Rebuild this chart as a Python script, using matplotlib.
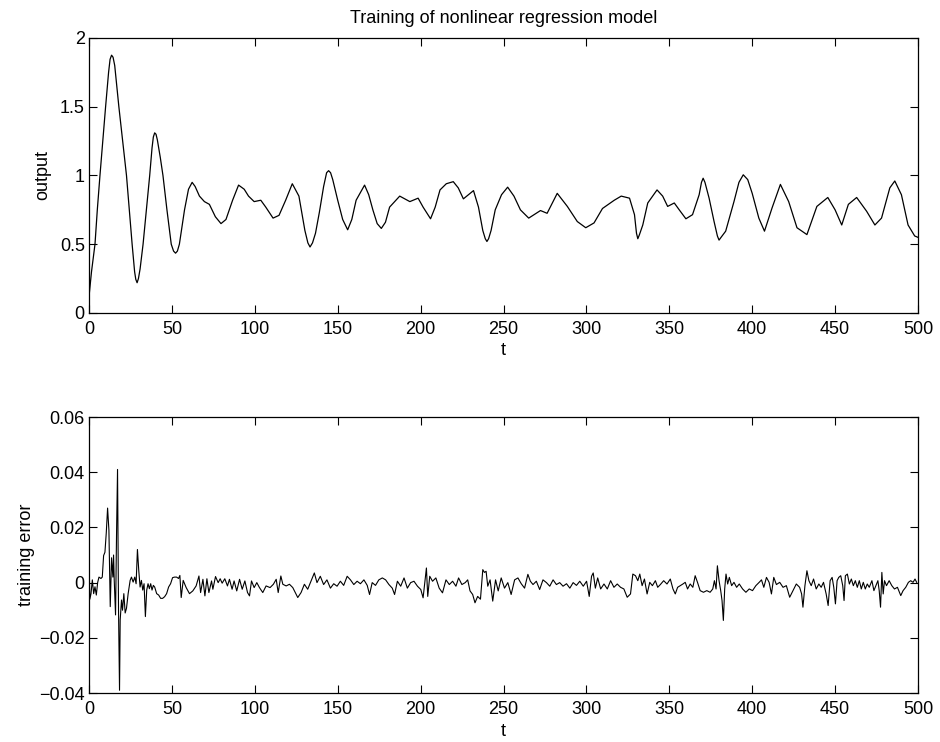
import matplotlib

matplotlib.use("Agg")
import matplotlib.pyplot as plt

plt.rcParams["font.family"] = ["Liberation Sans", "DejaVu Sans"]
plt.rcParams["font.size"] = 13

# network output (top panel)
out_t = [0, 1.5, 3.6, 5, 6.6, 8.3, 10, 11.8, 12.7, 13.6, 14.5, 15.5, 17, 18,
         20.3, 22.6, 24.3, 26, 27.5, 28.2, 29, 29.8, 30.8, 32.6, 34.6, 36.6,
         38, 38.8, 39.6, 40.4, 41.2, 43, 44.6, 47, 49.6, 51, 52.2, 53.3, 54.5,
         57.6, 60, 62.2, 64, 66.6, 69.6, 72.6, 76.2, 79.6, 82.6, 86.6, 90.2,
         93.6, 96.2, 99.6, 103.6, 106.6, 111, 114.6, 118.6, 122.6, 126.6,
         130.2, 132, 133.3, 134.8, 136.6, 138.9, 141.5, 143.3, 144.5, 145.7,
         147, 150, 153, 156, 158.5, 161.1, 166.2, 168.7, 171.2, 173.8, 176.3,
         178.8, 181.3, 187.4, 193.5, 198.5, 201.5, 206, 208.8, 211.7, 215.5,
         219.7, 222.7, 225.8, 231.9, 234.9, 237.5, 239, 240, 241, 242.5, 245,
         248.8, 252.5, 256.3, 260.2, 265.2, 272.3, 276.3, 282.4, 288.5, 294.5,
         299.6, 304.6, 309.7, 316.8, 321, 326, 329, 330.2, 331, 332, 334, 337,
         342.6, 346, 349, 353, 356, 360, 364, 368, 369.4, 370.4, 371.5, 374,
         377, 379, 380, 381.2, 384, 389, 392, 394.6, 397.3, 400, 404, 407.4,
         412, 417, 422, 427, 433, 439, 445.6, 450, 454, 458, 463, 469, 474,
         478, 483, 486, 490, 494, 498, 500]
out_y = [0.12, 0.3, 0.5, 0.75, 1.0, 1.25, 1.5, 1.75, 1.845, 1.875, 1.86, 1.8,
         1.62, 1.5, 1.25, 1.0, 0.75, 0.5, 0.3, 0.245, 0.22, 0.25, 0.32, 0.5,
         0.75, 1.0, 1.2, 1.28, 1.31, 1.30, 1.26, 1.13, 1.0, 0.75, 0.5, 0.45,
         0.435, 0.45, 0.5, 0.75, 0.9, 0.95, 0.92, 0.85, 0.81, 0.79, 0.70, 0.65,
         0.68, 0.82, 0.93, 0.90, 0.85, 0.81, 0.82, 0.77, 0.69, 0.71, 0.82,
         0.94, 0.85, 0.60, 0.51, 0.48, 0.51, 0.58, 0.73, 0.92, 1.02, 1.035,
         1.02, 0.97, 0.82, 0.68, 0.605, 0.68, 0.82, 0.93, 0.86, 0.75, 0.65,
         0.615, 0.66, 0.77, 0.85, 0.81, 0.835, 0.77, 0.685, 0.77, 0.895, 0.94,
         0.955, 0.91, 0.83, 0.89, 0.77, 0.60, 0.54, 0.52, 0.54, 0.60, 0.75,
         0.86, 0.915, 0.85, 0.75, 0.69, 0.745, 0.725, 0.87, 0.775, 0.665, 0.62,
         0.655, 0.76, 0.82, 0.85, 0.835, 0.715, 0.58, 0.54, 0.57, 0.64, 0.80,
         0.895, 0.85, 0.775, 0.80, 0.75, 0.685, 0.715, 0.86, 0.95, 0.98, 0.95,
         0.835, 0.665, 0.56, 0.53, 0.55, 0.595, 0.81, 0.95, 1.005, 0.97, 0.87,
         0.69, 0.595, 0.765, 0.935, 0.81, 0.62, 0.57, 0.775, 0.84, 0.75, 0.64,
         0.79, 0.84, 0.74, 0.64, 0.69, 0.91, 0.96, 0.86, 0.64, 0.56, 0.55]

# training error (bottom panel)
err_t = [0, 0.5, 1.2, 2, 2.8, 3.6, 4.4, 5.2, 6, 7.2, 8, 8.8, 9.6, 10.4, 11.2,
         12, 12.8, 13.6, 14.4, 14.8, 15.2, 16, 16.6, 17.2, 17.8, 18.4, 18.8,
         19.6, 20.2, 21, 21.8, 22.6, 23.6, 24.8, 25.6, 26.6, 27.6, 28.4, 29.2,
         30, 30.8, 31.6, 32.4, 33.2, 34, 34.8, 35.6, 36.4, 37.2, 38, 38.8,
         39.6, 40.8, 42, 43.2, 44.4, 45.6, 46.8, 48, 49.2, 50.4, 51.6, 52.8,
         54, 54.8, 55.6, 56.8, 58.6, 60.6, 62.6, 64.6, 66.3, 67.3, 68.7, 69.9,
         71.1, 72.3, 73.9, 74.7, 76.3, 77.9, 79.1, 80.3, 81.9, 83.5, 84.7,
         86.3, 87.5, 89.1, 90.8, 92.4, 94, 95.6, 96.8, 98, 99.6, 101.2, 102.8,
         104.8, 106.8, 109.2, 111.2, 112.9, 114.1, 115.7, 116.9, 118.9, 120.9,
         122.9, 125.9, 127.9, 129.9, 131.9, 133.9, 135.9, 137.5, 139.5, 141.5,
         143.5, 145.6, 147.6, 149.6, 151.6, 153.6, 155.7, 157.7, 159.7, 161.7,
         163.7, 165.8, 167.8, 169.2, 170.8, 172.8, 174.8, 176.9, 178.9, 180.9,
         182.9, 184.3, 186, 188, 190, 192, 194, 196, 198.1, 200.1, 201.5,
         202.7, 203.5, 204.3, 205.5, 207.2, 209.2, 211.2, 213.2, 215.3, 217.3,
         219.3, 221.3, 222.9, 224.9, 226.9, 228.4, 229.8, 231.4, 232.8, 234.4,
         236.1, 237.5, 238.5, 239.5, 240.5, 241.9, 243.5, 245.2, 246.8, 248.6,
         250.6, 252.6, 254.6, 256.7, 258.7, 260.7, 262.7, 264.7, 266.2, 267.8,
         269.8, 271.8, 273.8, 275.9, 277.9, 279.9, 281.9, 283.9, 285.9, 288,
         290, 292, 294, 296, 298.1, 300.1, 301.7, 303.1, 304.1, 305.4, 306.8,
         308.6, 310.6, 312.6, 314.6, 316.6, 318.6, 320.6, 322.6, 324.6, 326.6,
         328, 329.6, 331, 332.2, 333.6, 335, 336.6, 338.2, 339.8, 341.6, 343,
         344.6, 346.6, 348.6, 350.6, 352.2, 353.6, 355, 356.6, 358.2, 359.6,
         361, 362.6, 364.2, 365.6, 367, 368.6, 370.6, 372.6, 374.6, 376.2,
         377.2, 378.2, 379, 380, 381, 381.8, 382.6, 383.4, 384.2, 385.2,
         386.2, 387.6, 389, 390.6, 392.2, 394.2, 396.2, 398.2, 400.2, 402.2,
         404.2, 405.6, 407, 408.6, 410.2, 411.6, 413, 414.6, 416.6, 418.6,
         420.6, 422.6, 424.6, 426.6, 428.6, 429.8, 430.6, 431.8, 433, 434.2,
         435.6, 437, 438.6, 440.2, 441.6, 443, 444.6, 445.8, 447, 448.2,
         449.2, 450.2, 451.2, 452.2, 453.4, 454.6, 455.4, 456.2, 457.4, 458.6,
         459.8, 461, 462.2, 463.4, 464.6, 465.8, 467, 468.2, 469.4, 470.6,
         472.2, 473.4, 474.6, 475.8, 476.6, 477.4, 478.2, 479, 479.8, 481,
         482.6, 484.2, 485.8, 487.6, 489.6, 491, 492.6, 494.2, 495.6, 497,
         498.2, 499.2]
err_val = [0.008, -0.006, -0.004, 0.001, -0.004, -0.0015, -0.0045, 0.0, 0.002,
           0.0015, 0.002, 0.0098, 0.011, 0.018, 0.027, 0.019, -0.0087, 0.009,
           0.002, 0.010, 0.001, -0.0117, 0.0176, 0.041, -0.010, -0.039,
           -0.0135, -0.0063, -0.010, -0.004, -0.011, -0.0093, -0.004, 0.0008,
           0.002, 0.0002, 0.002, -0.0004, 0.012, 0.0044, -0.0016, 0.0008,
           -0.0027, -0.0004, -0.0123, -0.0027, -0.0004, -0.0022, -0.0004,
           -0.0027, -0.001, -0.0016, -0.004, -0.0045, -0.0057, -0.0057,
           -0.0051, -0.004, -0.0016, -0.0004, 0.0018, 0.002, 0.002, 0.0015,
           0.0026, -0.0054, 0.0008, -0.0018, -0.004, -0.003, -0.0012, 0.0024,
           -0.0036, 0.0012, -0.0048, 0.0014, -0.0036, 0.0006, -0.0024, 0.0022,
           0.0, 0.0014, -0.0002, 0.0014, -0.0012, 0.0012, -0.0024, 0.0006,
           -0.003, 0.0012, -0.0024, 0.0006, -0.0036, -0.0048, 0.0006, -0.0018,
           0.0, -0.0018, -0.0036, -0.0012, -0.0018, -0.0006, 0.0012, -0.0036,
           0.0024, -0.0006, -0.0012, -0.0006, -0.0018, -0.0054, -0.0036,
           -0.0006, -0.0024, 0.0006, 0.0035, 0.0, 0.0023, -0.0007, 0.001,
           -0.002, -0.0004, -0.0013, 0.0005, -0.001, 0.0023, 0.001, -0.0007,
           0.0005, -0.0004, 0.001, -0.001, -0.0043, 0.0, -0.001, 0.001, 0.0017,
           0.001, -0.0007, -0.002, -0.0043, 0.0005, -0.0013, 0.0017, -0.002,
           0.0, 0.0005, -0.0013, -0.0025, -0.0055, 0.001, 0.0053, -0.005,
           0.0023, 0.0005, 0.0017, -0.002, -0.0037, 0.001, -0.0007, 0.0005,
           -0.0013, 0.0017, -0.0007, 0.0, 0.001, -0.003, -0.0043, -0.0073,
           -0.005, -0.006, 0.0047, 0.0037, 0.0041, -0.0013, 0.001, -0.0067,
           0.001, -0.003, 0.0017, -0.002, 0.0, -0.0043, 0.001, 0.0017, -0.0004,
           -0.002, 0.003, 0.0005, -0.0007, 0.0005, -0.0025, 0.001, 0.0, -0.0013,
           0.001, -0.0007, 0.0, -0.0013, -0.0004, -0.002, 0.0, -0.001, 0.0005,
           -0.0013, 0.0005, -0.005, 0.0023, 0.0035, -0.002, 0.0017, -0.0023,
           -0.0005, -0.0023, 0.0007, -0.0017, -0.0005, -0.0017, -0.0023,
           -0.0053, -0.0041, 0.0031, 0.0025, 0.0007, 0.0031, -0.0011, 0.0013,
           -0.0041, 0.0001, -0.0011, 0.0007, -0.0017, -0.0007, 0.0007, -0.0005,
           0.0013, -0.0023, -0.0041, -0.0017, -0.0011, -0.0005, 0.0001,
           -0.0023, -0.0005, -0.0017, 0.0025, 0.0001, -0.0029, -0.0035,
           -0.0029, -0.0035, -0.0023, 0.0007, -0.0023, 0.0061, 0.0007, -0.0029,
           -0.0065, -0.0137, -0.0023, 0.0031, -0.0005, 0.0019, -0.0011, 0.0001,
           -0.0017, -0.0005, -0.0023, -0.0035, -0.0023, -0.0029, -0.0011,
           0.0001, 0.001, -0.0017, 0.0019, 0.0001, -0.0041, 0.0019, -0.0007,
           0.0001, -0.0017, -0.0011, -0.0053, -0.0029, -0.0005, -0.0017,
           -0.0041, -0.0089, -0.0011, 0.0043, 0.0007, -0.0011, 0.0013, -0.0023,
           -0.0005, -0.0017, 0.0001, -0.0041, -0.0083, 0.0007, 0.0019, -0.0017,
           -0.0077, 0.0007, 0.0019, 0.0025, -0.0011, -0.0065, 0.0025, 0.0031,
           -0.0005, 0.0013, -0.0011, 0.0007, -0.0017, 0.0007, -0.0023, 0.0001,
           -0.0023, -0.0005, -0.0017, 0.0007, -0.0029, -0.0011, 0.0007,
           -0.0029, -0.0089, 0.0037, -0.0041, 0.0007, -0.0011, 0.0007, -0.0011,
           -0.0023, -0.0017, -0.0047, -0.0029, -0.0017, 0.0001, 0.0007, 0.0001,
           0.0013, 0.0001]

x_ticks = [0, 50, 100, 150, 200, 250, 300, 350, 400, 450, 500]
out_ticks = [0, 0.5, 1, 1.5, 2]
out_ticklabels = ["0", "0.5", "1", "1.5", "2"]
err_ticks = [-0.04, -0.02, 0, 0.02, 0.04, 0.06]
err_ticklabels = ["\u22120.04", "\u22120.02", "0", "0.02", "0.04", "0.06"]


def style(ax):
    ax.tick_params(direction="in", length=6, width=0.8, top=True, right=True,
                   labelsize=13)
    ax.tick_params(axis="x", pad=6)
    ax.tick_params(axis="y", pad=3)
    for sp in ax.spines.values():
        sp.set_linewidth(0.9)
    ax.set_xlim(0, 500)
    ax.set_xticks(x_ticks)
    ax.set_xlabel("t", fontsize=13, labelpad=3)


fig = plt.figure(figsize=(9.4, 7.42), dpi=100)
ax1 = fig.add_axes([0.0947, 0.5782, 0.8819, 0.3706])
ax2 = fig.add_axes([0.0947, 0.0660, 0.8819, 0.3720])

ax1.plot(out_t, out_y, color="black", linewidth=0.9)
style(ax1)
ax1.set_ylim(0, 2)
ax1.set_yticks(out_ticks)
ax1.set_yticklabels(out_ticklabels)
ax1.set_ylabel("output", fontsize=13, labelpad=6)
ax1.set_title("Training of nonlinear regression model", fontsize=13, pad=11)

ax2.plot(err_t, err_val, color="black", linewidth=0.8)
style(ax2)
ax2.set_ylim(-0.04, 0.06)
ax2.set_yticks(err_ticks)
ax2.set_yticklabels(err_ticklabels)
ax2.set_ylabel("training error", fontsize=13, labelpad=3)

fig.savefig("out.png", dpi=100)
